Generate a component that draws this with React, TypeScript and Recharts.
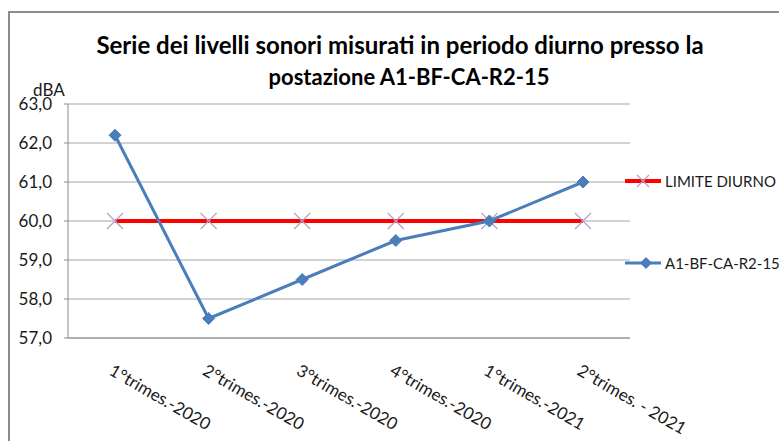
import { LineChart, Line, XAxis, YAxis, CartesianGrid } from "recharts";

const periods = [
  "1°trimes.-2020",
  "2°trimes.-2020",
  "3°trimes.-2020",
  "4°trimes.-2020",
  "1°trimes.-2021",
  "2°trimes. - 2021",
];
const limiteDiurno = [60, 60, 60, 60, 60, 60];
const postazione = [62.2, 57.5, 58.5, 59.5, 60.0, 61.0];
const yTicks = [57, 58, 59, 60, 61, 62, 63];

const data = periods.map((p, i) => ({
  name: p,
  limite: limiteDiurno[i],
  a1: postazione[i],
}));

const FONT = "Lato, 'Liberation Sans', sans-serif";
const BLUE = "#4a7ebb";
const RED = "#ff0000";
const CROSS = "#b3a2c7";

const CrossDot = (props: any) => {
  const { cx, cy } = props;
  if (cx == null || cy == null) return null;
  const r = 8;
  return (
    <g>
      <line x1={cx - r} y1={cy - r} x2={cx + r} y2={cy + r} stroke={CROSS} strokeWidth={1.2} />
      <line x1={cx - r} y1={cy + r} x2={cx + r} y2={cy - r} stroke={CROSS} strokeWidth={1.2} />
    </g>
  );
};

const DiamondDot = (props: any) => {
  const { cx, cy } = props;
  if (cx == null || cy == null) return null;
  const r = 6;
  return (
    <polygon
      points={`${cx},${cy - r} ${cx + r},${cy} ${cx},${cy + r} ${cx - r},${cy}`}
      fill={BLUE}
      stroke={BLUE}
    />
  );
};

const XTick = (props: any) => {
  const { x, y, payload } = props;
  const tx = x - 7;
  const ty = y + 28;
  return (
    <text
      x={tx}
      y={ty}
      transform={`rotate(30, ${tx}, ${ty})`}
      textAnchor="start"
      fontSize={17}
      fontFamily={FONT}
      fill="#1a1a1a"
    >
      {payload.value}
    </text>
  );
};

const LegendBox = () => (
  <div style={{ position: "absolute", left: 624, top: 170, width: 160, height: 110, fontFamily: FONT, fontSize: 15, color: "#1a1a1a" }}>
    <svg width={40} height={110} style={{ position: "absolute", left: 0, top: 0 }}>
      <line x1={1} y1={11} x2={37} y2={11} stroke={RED} strokeWidth={4} />
      <line x1={13} y1={5} x2={25} y2={17} stroke={CROSS} strokeWidth={1.2} />
      <line x1={13} y1={17} x2={25} y2={5} stroke={CROSS} strokeWidth={1.2} />
      <line x1={1} y1={93} x2={37} y2={93} stroke={BLUE} strokeWidth={3} />
      <polygon points="22,87 28,93 22,99 16,93" fill={BLUE} />
    </svg>
    <div style={{ position: "absolute", left: 41, top: 2, whiteSpace: "nowrap" }}>LIMITE DIURNO</div>
    <div style={{ position: "absolute", left: 41, top: 84, whiteSpace: "nowrap" }}>A1-BF-CA-R2-15</div>
  </div>
);

const titleStyle = {
  position: "absolute" as const,
  width: 800,
  textAlign: "center" as const,
  fontFamily: FONT,
  fontWeight: 700,
  color: "#000",
  whiteSpace: "nowrap" as const,
};

export default function App() {
  return (
    <div style={{ position: "absolute", left: 0, top: 0, width: 779, height: 441, overflow: "hidden", background: "#fff" }}>
      <div
        style={{
          position: "absolute",
          left: 8,
          top: 11,
          width: 800,
          height: 500,
          border: "2px solid #8c8c8c",
          boxSizing: "border-box",
        }}
      />
      <div style={{ ...titleStyle, left: 0, top: 30, fontSize: 24, lineHeight: "30px" }}>
        Serie dei livelli sonori misurati in periodo diurno presso la
      </div>
      <div style={{ ...titleStyle, left: 9, top: 62, fontSize: 22, lineHeight: "30px" }}>
        postazione A1-BF-CA-R2-15
      </div>
      <div style={{ position: "absolute", left: 33, top: 79, fontFamily: FONT, fontSize: 17, color: "#1a1a1a" }}>dBA</div>
      <div style={{ position: "absolute", left: 0, top: 0 }}>
        <LineChart width={779} height={441} data={data} margin={{ top: 104, right: 149, bottom: 3, left: 8 }}>
          <CartesianGrid vertical={false} stroke="#a6a6a6" />
          <XAxis
            dataKey="name"
            interval={0}
            padding={{ left: 47, right: 47 }}
            height={100}
            tickLine={false}
            axisLine={{ stroke: "#8c8c8c" }}
            tick={<XTick />}
          />
          <YAxis
            width={60}
            domain={[57, 63]}
            ticks={yTicks}
            interval={0}
            tickFormatter={(v: number) => v.toFixed(1).replace(".", ",")}
            axisLine={{ stroke: "#8c8c8c" }}
            tickLine={{ stroke: "#8c8c8c" }}
            tickSize={4}
            tickMargin={12}
            tick={{ fontSize: 17, fontFamily: FONT, fill: "#1a1a1a" }}
          />
          <Line
            dataKey="limite"
            name="LIMITE DIURNO"
            stroke={RED}
            strokeWidth={4}
            dot={<CrossDot />}
            activeDot={false}
            isAnimationActive={false}
          />
          <Line
            dataKey="a1"
            name="A1-BF-CA-R2-15"
            stroke={BLUE}
            strokeWidth={3}
            dot={<DiamondDot />}
            activeDot={false}
            isAnimationActive={false}
          />
        </LineChart>
      </div>
      <LegendBox />
    </div>
  );
}
